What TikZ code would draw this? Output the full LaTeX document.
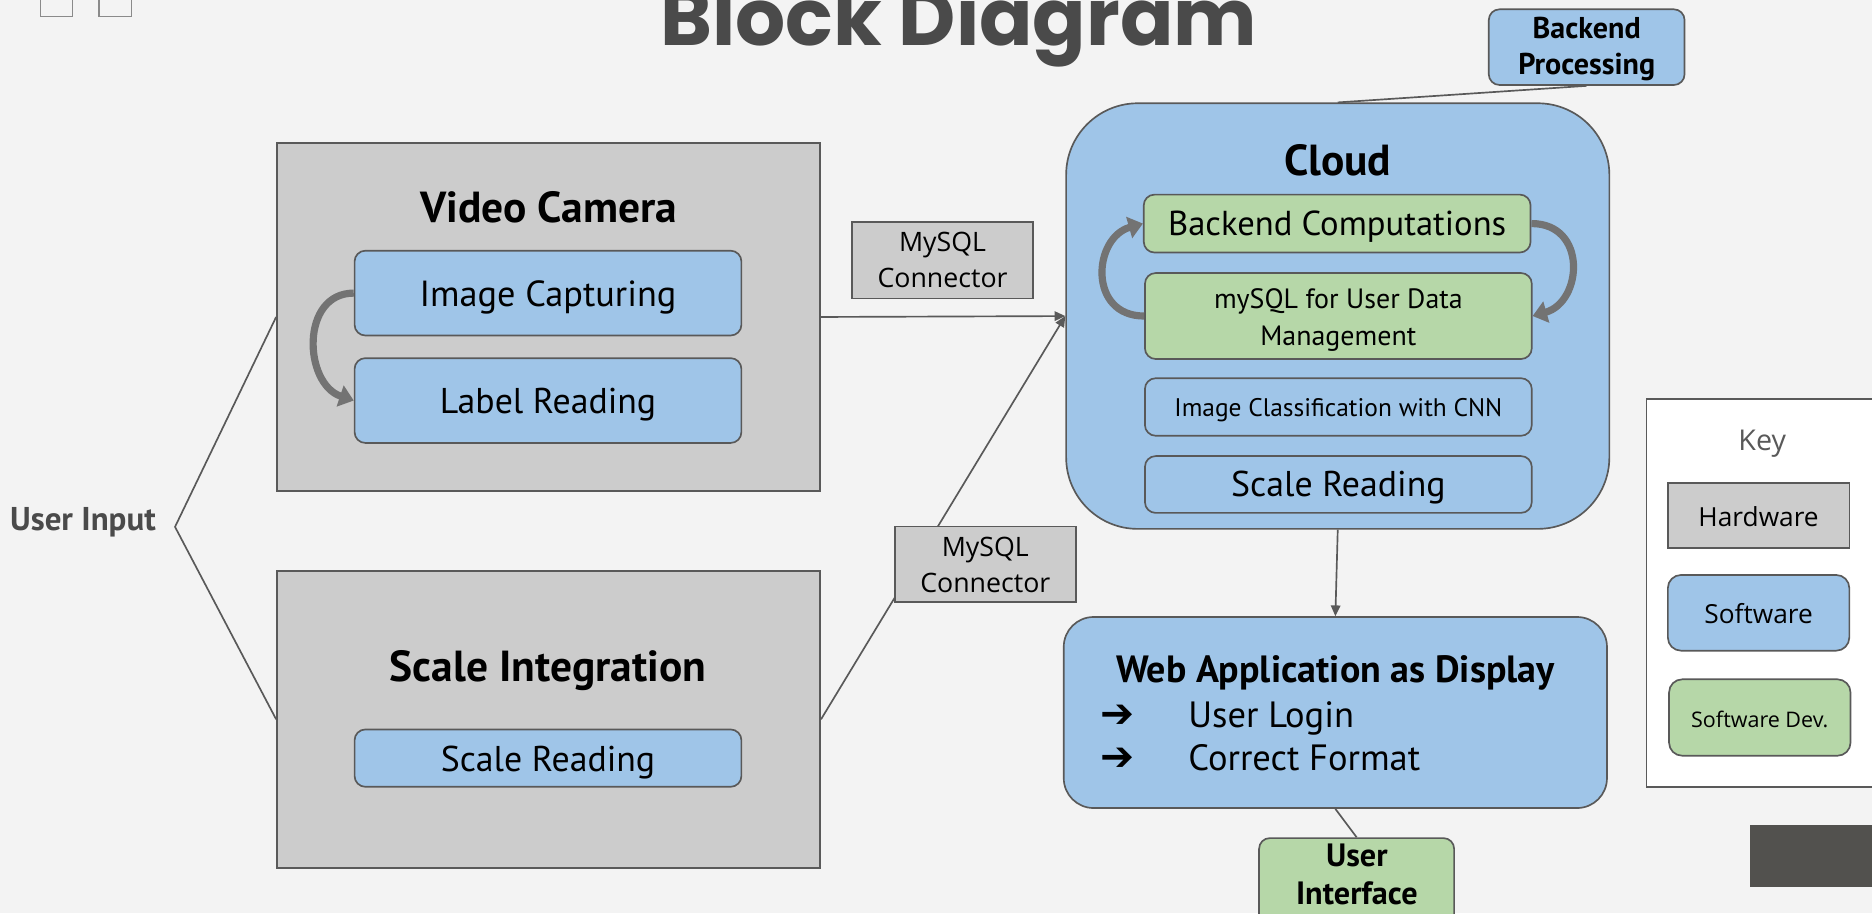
\documentclass[tikz,border=0pt]{standalone}
\usepackage{fontspec}
\setmainfont{PT Sans}
\newfontfamily\osans{Open Sans}
\newfontfamily\popb{Poppins}
\newfontfamily\dejavu{DejaVu Sans}
\usetikzlibrary{fit,arrows.meta}
\definecolor{bg}{HTML}{F3F3F3}
\definecolor{hwc}{HTML}{CCCCCC}
\definecolor{swc}{HTML}{9FC5E8}
\definecolor{devc}{HTML}{B6D7A8}
\definecolor{lnc}{HTML}{595959}
\definecolor{ttl}{HTML}{4A4A4A}
\definecolor{arrc}{HTML}{737373}
\definecolor{dkc}{HTML}{52514E}
\definecolor{sqc}{HTML}{8A8A8A}
\newcommand{\fs}[1]{\fontsize{#1}{1.2\dimexpr#1\relax}\selectfont}
\begin{document}
\begin{tikzpicture}[x=0.5pt,y=-0.5pt,
  hwbox/.style={draw=lnc, line width=0.7pt, fill=hwc, inner sep=0pt},
  swbox/.style={draw=lnc, line width=0.7pt, fill=swc, rounded corners=4.5pt, inner sep=0pt},
  devbox/.style={draw=lnc, line width=0.7pt, fill=devc, rounded corners=4.5pt, inner sep=0pt},
  txt/.style={inner sep=0pt, anchor=base},
  conn/.style={draw=lnc, line width=0.7pt},
  arrowc/.style={conn, -{Triangle[length=4.5pt,width=4pt]}},
  loopar/.style={draw=arrc, line width=3pt, -{Triangle[length=6pt,width=9pt]}}]
\useasboundingbox (0,0) rectangle (1568,765);
\clip (0,0) rectangle (1568,765);
\fill[bg] (0,0) rectangle (1568,765);
% top-left squares
\draw[sqc, line width=0.6pt] (33.7,-13) rectangle (60.6,14);
\draw[sqc, line width=0.6pt] (83,-13) rectangle (110,14);
% title
\node[txt, text=ttl, font=\popb\bfseries\fs{33pt}] (title) at (803,38.3) {Block Diagram};
% user input
\node[txt, text=ttl, font=\bfseries\fs{13.8pt}] (uin) at (69.5,444) {User Input};
\coordinate (apex) at (146.6,441.3);
% hardware boxes
\node[hwbox, fit={(232,120)(687,411)}] (vc) {};
\node[hwbox, fit={(232,478)(687,727)}] (si) {};
\draw[conn] (vc.west) -- (apex) -- (si.west);
\node[swbox, fit={(297,210)(621,281)}] (ic) {};
\node[swbox, fit={(297,300)(621,371)}] (lr) {};
\node[swbox, fit={(297,611)(621,659)}] (sr1) {};
\draw[loopar] (ic.west) .. controls +(-45,0) and +(-42,-14) .. (lr.west);
% cloud
\node[swbox, rounded corners=30pt, fit={(893,86.5)(1348,443)}] (cloud) {};
\node[devbox, fit={(958,163)(1282,211.5)}] (bc) {};
\node[devbox, fit={(959,228.7)(1283,300.7)}] (my) {};
\node[swbox, fit={(959,316.8)(1283,365)}] (cnn) {};
\node[swbox, fit={(959,382)(1283,429.6)}] (sr2) {};
\draw[loopar] (my.west) .. controls +(-47,0) and +(-42,12) .. (bc.west);
\draw[loopar] (bc.east) .. controls +(47,0) and +(42,-12) .. (my.east);
% backend processing
\node[swbox, fit={(1247,7.8)(1411,71.2)}] (bp) {};
\draw[conn] (cloud.north) -- (bp.south);
% connectors to cloud
\draw[arrowc] (vc.east) -- (cloud.west);
\draw[arrowc] (si.east) -- (cloud.west);
\node[hwbox, fit={(713.6,186)(865.4,250)}] (c1) {};
\node[hwbox, fit={(749.6,441)(901,504)}] (c2) {};
% web app
\node[swbox, rounded corners=12.5pt, fit={(891,516.8)(1346,676.8)}] (wa) {};
\draw[arrowc] (cloud.south) -- (wa.north);
\node[devbox, fit={(1054.6,702)(1218,790)}] (ui) {};
\draw[conn] (wa.south) -- (ui.north);
% key
\node[draw=lnc, line width=0.7pt, fill=white, inner sep=0pt, fit={(1379,334)(1580,659)}] (key) {};
\node[hwbox, fit={(1397,404.5)(1549,459)}] (khw) {};
\node[swbox, rounded corners=5.5pt, fit={(1397,481.6)(1549,545)}] (ksw) {};
\node[devbox, rounded corners=5.5pt, fit={(1398,569)(1550,633)}] (kdev) {};
\fill[dkc] (1466,691) rectangle (1580,743);
% texts
\node[txt, font=\bfseries\fs{18.2pt}] (vct) at (459.5,186) {Video Camera};
\node[txt, font=\fs{15.2pt}] (ict) at (459,257) {Image Capturing};
\node[txt, font=\fs{15pt}] (lrt) at (459,346) {Label Reading};
\node[txt, font=\bfseries\fs{18.2pt}] (sit) at (459,571) {Scale Integration};
\node[txt, font=\fs{15pt}] (sr1t) at (459,646.6) {Scale Reading};
\node[txt, font=\osans\fs{11.2pt}] (c1a) at (789.5,211) {MySQL};
\node[txt, font=\osans\fs{11.2pt}] (c1b) at (789.5,241) {Connector};
\node[txt, font=\osans\fs{11.2pt}] (c2a) at (825.3,466) {MySQL};
\node[txt, font=\osans\fs{11.2pt}] (c2b) at (825.3,496) {Connector};
\node[txt, font=\bfseries\fs{18.2pt}] (cloudt) at (1120.5,146.6) {Cloud};
\node[txt, font=\fs{14.5pt}] (bct) at (1120,197) {Backend Computations};
\node[txt, font=\fs{11.7pt}] (my1) at (1121,258) {mySQL for User Data};
\node[txt, font=\fs{11.7pt}] (my2) at (1121,289) {Management};
\node[txt, font=\fs{10.65pt}] (cnnt) at (1121,349) {Image Classification with CNN};
\node[txt, font=\fs{15pt}] (sr2t) at (1121,416) {Scale Reading};
\node[txt, font=\bfseries\fs{12.6pt}] (bp1) at (1329,32) {Backend};
\node[txt, font=\bfseries\fs{12.6pt}] (bp2) at (1329,62) {Processing};
\node[txt, font=\bfseries\fs{15.9pt}] (wat) at (1118.5,572) {Web Application as Display};
\node[txt, anchor=base west, font=\dejavu\bfseries\fs{17pt}] (b1) at (921,609) {➔};
\node[txt, anchor=base west, font=\fs{15.3pt}] (l1) at (995,609) {User Login};
\node[txt, anchor=base west, font=\dejavu\bfseries\fs{17pt}] (b2) at (921,645.6) {➔};
\node[txt, anchor=base west, font=\fs{15.3pt}] (l2) at (995,645.6) {Correct Format};
\node[txt, font=\bfseries\fs{13.5pt}] (ui1) at (1136.5,726) {User};
\node[txt, font=\bfseries\fs{13.5pt}] (ui2) at (1136.5,758) {Interface};
\node[txt, text=lnc, font=\osans\fs{12pt}] (keyt) at (1476,377) {Key};
\node[txt, font=\osans\fs{11pt}] (hwt) at (1473,441) {Hardware};
\node[txt, font=\osans\fs{11pt}] (swt) at (1473,521.9) {Software};
\node[txt, font=\osans\fs{9pt}] (sdt) at (1474,609) {Software Dev.};
\end{tikzpicture}
\end{document}
